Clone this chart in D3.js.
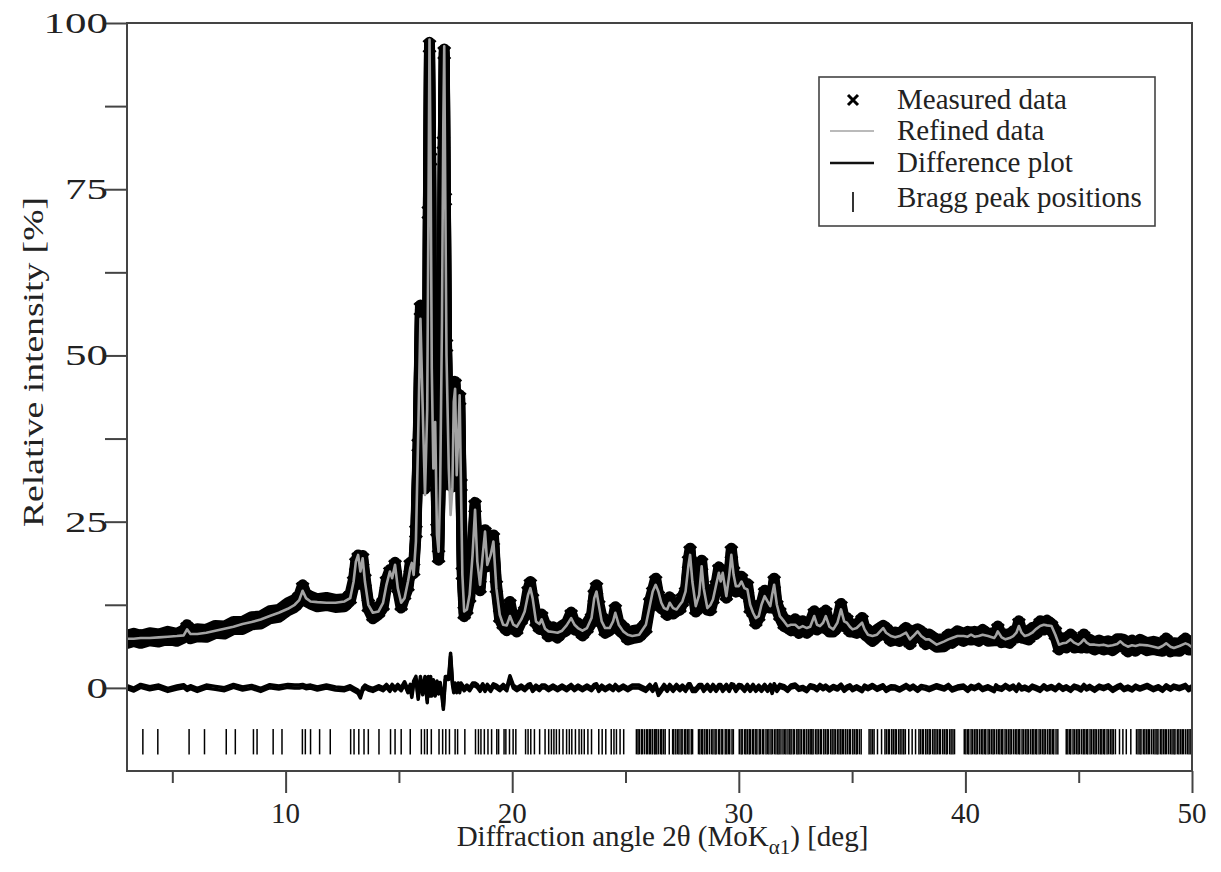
<!DOCTYPE html>
<html>
<head>
<meta charset="utf-8">
<script src="https://cdn.jsdelivr.net/npm/d3@7"></script>
<style>
  html, body { margin: 0; padding: 0; background: #fff; }
  svg text { font-family: "Liberation Serif", "Times New Roman", serif; fill: #222; }
</style>
</head>
<body>
<div id="chart"></div>
<script>
// ----- Data -----

// 2theta grid [deg] shared by measured / refined / difference
const twoTheta = [
  3.0, 3.3, 3.6, 4.0, 4.4, 4.8, 5.2, 5.5, 5.65, 5.8, 6.1, 6.5, 6.9, 7.3, 7.7, 8.1, 8.5, 8.9, 9.3, 9.7,
  10.1, 10.4, 10.6, 10.75, 10.9, 11.1, 11.4, 11.8, 12.2, 12.6, 12.85, 13.0, 13.1, 13.2, 13.3, 13.4, 13.5, 13.65, 13.85,
  14.1, 14.3, 14.45, 14.6, 14.7, 14.83, 14.95, 15.1, 15.25, 15.4, 15.5, 15.57, 15.65, 15.75, 15.85, 15.95,
  16.05, 16.15, 16.25, 16.3, 16.35, 16.4, 16.45, 16.52, 16.6, 16.68, 16.75, 16.82, 16.9, 16.96,
  17.0, 17.05, 17.1, 17.2, 17.28, 17.36, 17.42, 17.48, 17.55, 17.62, 17.68, 17.74, 17.8, 17.88,
  18.0, 18.12, 18.25, 18.36, 18.46, 18.58, 18.7, 18.8, 18.9, 19.05, 19.17, 19.3, 19.45, 19.6, 19.76, 19.9,
  20.05, 20.2, 20.4, 20.55, 20.7, 20.8, 20.9, 21.05, 21.2, 21.3, 21.45, 21.6, 21.8, 22.0, 22.2, 22.4, 22.6, 22.75, 22.9,
  23.1, 23.3, 23.5, 23.62, 23.72, 23.82, 23.95, 24.1, 24.3, 24.45, 24.55, 24.7, 24.9, 25.1, 25.3, 25.6, 25.9,
  26.07, 26.2, 26.33, 26.45, 26.58, 26.7, 26.84, 26.95, 27.1, 27.25, 27.4, 27.51, 27.65, 27.78, 27.85, 27.95,
  28.1, 28.25, 28.36, 28.45, 28.61, 28.75, 28.86, 29.0, 29.12, 29.2, 29.29, 29.45, 29.58, 29.67, 29.77, 29.87,
  30.0, 30.12, 30.25, 30.38, 30.5, 30.63, 30.75, 30.88, 31.0, 31.14, 31.27, 31.39, 31.47, 31.56, 31.68, 31.81,
  32.0, 32.15, 32.3, 32.49, 32.65, 32.82, 33.0, 33.15, 33.33, 33.45, 33.58, 33.72, 33.84,
  34.0, 34.17, 34.35, 34.51, 34.65, 34.77, 34.9, 35.02, 35.2, 35.44, 35.55, 35.7, 35.9,
  36.1, 36.37, 36.5, 36.71, 36.9, 37.1, 37.38, 37.55, 37.7, 37.89, 38.05, 38.25, 38.4, 38.73,
  39.07, 39.25, 39.41, 39.65, 39.92, 40.1, 40.25, 40.4, 40.59, 40.76, 41.0, 41.27, 41.35, 41.43, 41.6, 41.77, 41.95,
  42.11, 42.25, 42.36, 42.48, 42.62, 42.8, 42.95, 43.1, 43.3, 43.46, 43.6, 43.8, 43.97,
  44.13, 44.3, 44.45, 44.64, 44.8, 44.98, 45.1, 45.23, 45.35, 45.49, 45.7, 45.9,
  46.1, 46.3, 46.5, 46.7, 46.84, 47.0, 47.17, 47.35, 47.51, 47.7, 48.02, 48.3, 48.52, 48.7, 48.86,
  49.05, 49.2, 49.45, 49.71, 49.85, 50.0
];

// refined (Rietveld) curve, relative intensity [%]
const refined = [
  7.4, 7.4, 7.5, 7.5, 7.6, 7.7, 7.8, 7.9, 8.8, 8.1, 8.1, 8.3, 8.6, 8.9, 9.2, 9.6, 9.9, 10.3, 10.8, 11.3,
  11.9, 12.5, 13.2, 14.6, 13.5, 13.0, 12.9, 12.8, 12.8, 13.0, 13.5, 16.0, 19.0, 20.0, 17.5, 19.5, 16.0, 12.5, 11.3,
  11.5, 12.8, 15.5, 17.5, 16.5, 18.5, 15.0, 12.8, 13.5, 16.0, 18.0, 18.8, 17.0, 22.0, 38.0, 55.5,
  42.0, 29.0, 42.0, 70.0, 97.5, 78.0, 48.0, 33.0, 40.0, 23.0, 20.5, 30.0, 55.0, 85.0,
  96.5, 72.0, 50.0, 33.0, 26.0, 30.0, 43.0, 45.0, 32.0, 38.0, 44.0, 30.0, 17.0, 11.5,
  11.8, 14.0, 20.0, 26.8, 19.0, 15.5, 20.0, 23.5, 18.5, 20.0, 22.0, 15.0, 11.0, 9.5, 9.4, 10.8,
  9.5, 9.2, 10.3, 11.5, 14.0, 15.0, 13.5, 10.0, 9.6, 10.3, 8.9, 8.5, 8.4, 8.3, 8.6, 9.4, 10.5, 9.5, 9.0,
  8.6, 9.0, 10.5, 13.5, 14.5, 12.5, 10.0, 9.0, 9.0, 10.0, 11.3, 9.5, 8.5, 8.0, 7.8, 8.0, 9.5,
  12.3, 14.5, 15.5, 14.5, 12.8, 12.0, 11.8, 12.8, 12.0, 11.8, 12.5, 13.0, 14.5, 18.5, 20.0, 16.0,
  12.3, 14.0, 18.3, 15.0, 12.0, 12.5, 13.3, 15.5, 17.3, 16.0, 17.3, 13.8, 17.0, 20.0, 17.0, 15.3,
  15.3, 16.0, 15.0, 14.8, 12.5, 11.3, 10.5, 10.8, 12.5, 13.8, 13.0, 12.3, 14.0, 15.5, 12.5, 10.8,
  10.0, 9.3, 9.5, 9.5, 9.0, 9.3, 9.0, 9.2, 10.8, 9.5, 9.3, 9.8, 10.8,
  9.2, 8.8, 9.8, 11.8, 10.0, 9.8, 9.2, 8.8, 9.0, 9.8, 8.8, 8.0, 7.8,
  8.0, 9.0, 8.3, 7.8, 7.6, 7.8, 8.3, 7.3, 7.8, 8.5, 7.8, 7.3, 7.3, 6.5,
  7.0, 7.3, 7.5, 7.8, 7.8, 7.7, 8.0, 7.7, 7.8, 8.0, 7.8, 7.5, 7.9, 8.5, 7.6, 7.3, 7.5,
  7.8, 8.3, 9.3, 8.3, 7.8, 8.0, 8.3, 8.8, 9.3, 9.5, 9.4, 9.3, 8.0,
  6.5, 6.7, 6.8, 7.3, 6.8, 6.5, 6.8, 7.3, 6.8, 6.5, 6.5, 6.4,
  6.5, 6.3, 6.4, 6.6, 7.0, 6.5, 6.2, 6.4, 6.3, 6.5, 6.4, 6.2, 6.0, 6.3, 6.7,
  6.2, 6.0, 6.3, 6.7, 6.5, 6.1
];

// measured intensity [%]
const measured = [
  7.3, 7.6, 7.3, 7.7, 7.5, 7.9, 7.6, 8.1, 8.9, 8.0, 8.3, 8.2, 8.8, 8.7, 9.4, 9.4, 10.1, 10.2, 11.0, 11.2,
  12.2, 12.7, 13.4, 14.9, 13.6, 13.2, 12.8, 13.0, 12.7, 12.8, 13.6, 15.8, 18.6, 19.4, 16.2, 19.3, 16.2, 12.4, 11.0,
  11.6, 12.6, 15.8, 17.2, 16.8, 18.3, 15.3, 12.6, 14.2, 15.5, 18.3, 17.6, 17.8, 23.5, 36.5, 57.0,
  41.2, 30.5, 40.0, 71.5, 96.5, 79.5, 47.0, 34.0, 39.0, 23.8, 19.8, 30.6, 54.0, 82.0,
  95.5, 73.5, 51.5, 34.5, 31.0, 30.8, 42.5, 45.5, 31.5, 38.5, 43.5, 30.5, 17.2, 11.3,
  12.0, 13.8, 20.5, 27.3, 19.3, 15.2, 20.4, 23.2, 18.8, 19.7, 22.4, 15.2, 10.8, 9.8, 9.2, 12.4,
  9.7, 9.0, 10.5, 11.3, 14.3, 15.4, 13.2, 10.2, 9.4, 10.5, 9.1, 8.3, 8.6, 8.1, 8.8, 9.2, 10.8, 9.3, 9.2,
  8.4, 9.2, 10.3, 13.8, 14.9, 12.2, 10.2, 8.8, 9.2, 9.8, 11.6, 9.3, 8.7, 7.8, 8.0, 8.2, 9.2,
  12.6, 14.2, 15.9, 13.6, 12.5, 12.3, 11.5, 13.1, 11.7, 12.1, 12.3, 13.2, 14.2, 18.9, 20.4, 15.7,
  12.0, 14.3, 18.6, 14.7, 12.3, 12.2, 13.6, 15.2, 17.6, 16.3, 17.0, 14.1, 16.7, 20.4, 17.3, 15.0,
  15.6, 16.2, 14.7, 15.1, 12.2, 11.6, 10.2, 11.0, 12.2, 14.1, 12.7, 12.6, 13.4, 15.9, 12.2, 11.1,
  9.8, 9.6, 9.2, 9.8, 8.8, 9.5, 8.8, 9.4, 11.0, 9.3, 9.6, 9.6, 11.1,
  9.0, 9.0, 9.6, 12.1, 9.8, 10.0, 9.0, 9.0, 8.8, 10.0, 8.6, 8.2, 7.6,
  8.2, 8.8, 8.5, 7.6, 7.8, 7.6, 8.5, 7.1, 8.0, 8.3, 8.0, 7.1, 7.5, 6.7,
  6.8, 7.5, 7.3, 8.0, 7.6, 7.9, 7.8, 7.9, 7.6, 8.2, 7.6, 7.7, 7.7, 8.7, 7.4, 7.5, 7.3,
  8.0, 8.1, 9.5, 8.1, 8.0, 7.8, 8.5, 8.6, 9.5, 9.3, 9.6, 9.1, 8.2,
  6.3, 6.9, 6.6, 7.5, 6.6, 6.7, 6.6, 7.5, 6.6, 6.7, 6.3, 6.6,
  6.3, 6.5, 6.2, 6.8, 6.8, 6.7, 6.0, 6.6, 6.1, 6.7, 6.2, 6.4, 6.2, 6.1, 6.9,
  6.0, 6.2, 6.1, 6.9, 6.3, 6.3
];

// difference plot (measured - refined) [%]
const difference = [
  0.1, -0.25, 0.3, -0.05, 0.2, -0.3, 0.05, 0.25, -0.15, 0.1, -0.3, 0.2, 0.0, -0.2, 0.3, -0.1, 0.15, -0.3, 0.25, 0.05,
  0.3, 0.2, 0.2, 0.3, 0.1, 0.2, -0.1, 0.2, -0.1, -0.2, 0.1, -0.2, -0.4, -0.6, -1.3, -0.2, 0.2, -0.1, -0.3,
  0.1, -0.2, 0.3, -0.3, 0.3, -0.2, 0.3, -0.2, 0.7, -0.5, 0.3, -1.2, 0.8, 1.5, -1.5, 1.5,
  -0.8, 1.5, -2.0, 1.5, -1.0, 1.5, -1.0, 1.0, -1.0, 0.8, -0.7, 0.6, -1.0, -3.0,
  -1.0, 1.5, 1.5, 1.5, 5.0, 0.8, -0.5, 0.5, -0.5, 0.5, -0.5, 0.5, 0.2, -0.2,
  0.2, -0.2, 0.5, 0.5, 0.3, -0.3, 0.4, -0.3, 0.3, -0.3, 0.4, 0.2, -0.2, 0.3, -0.2, 1.6,
  0.2, -0.2, 0.2, -0.2, 0.3, 0.4, -0.3, 0.2, -0.2, 0.2, 0.2, -0.2, 0.2, -0.2, 0.2, -0.2, 0.3, -0.2, 0.2,
  -0.2, 0.2, -0.2, 0.3, 0.4, -0.3, 0.2, -0.2, 0.2, -0.2, 0.3, -0.2, 0.2, -0.2, 0.2, 0.2, -0.3,
  0.3, -0.3, 0.4, -0.9, -0.3, 0.3, -0.3, 0.3, -0.3, 0.3, -0.2, 0.2, -0.3, 0.4, 0.4, -0.3,
  -0.3, 0.3, 0.3, -0.3, 0.3, -0.3, 0.3, -0.3, 0.3, 0.3, -0.3, 0.3, -0.3, 0.4, 0.3, -0.3,
  0.3, 0.2, -0.3, 0.3, -0.3, 0.3, -0.3, 0.2, -0.3, 0.3, -0.3, 0.3, -0.6, 0.4, -0.3, 0.3,
  0.1, -0.3, 0.2, 0.35, -0.15, 0.0, -0.35, 0.25, 0.1, -0.2, 0.3, -0.05, 0.2,
  -0.25, 0.15, -0.1, 0.35, -0.3, 0.05, 0.25, -0.2, 0.1, -0.35, 0.2, -0.05, 0.3,
  -0.15, 0.25, -0.3, 0.1, 0.05, -0.25, 0.3, -0.1, 0.2, -0.3, 0.15, 0.0, -0.2, 0.25,
  -0.1, 0.3, -0.25, 0.05, 0.2, -0.3, 0.15, -0.05, 0.3, -0.2, 0.1, -0.35, 0.25, 0.0, -0.15, 0.3, -0.1,
  0.2, -0.3, 0.35, -0.1, 0.05, -0.25, 0.2, 0.0, -0.3, 0.25, -0.1, 0.15, -0.2,
  0.3, -0.15, 0.1, -0.3, 0.2, 0.0, -0.25, 0.3, -0.1, 0.15, -0.3, 0.2,
  -0.05, 0.25, -0.3, 0.1, 0.3, -0.2, 0.05, -0.25, 0.2, -0.1, 0.3, -0.2, 0.1, -0.3, 0.25,
  -0.15, 0.2, -0.05, 0.3, -0.2, 0.1
];

// Bragg reflection positions [deg 2theta]
const braggPositions = [
  3.70, 4.36, 5.74, 6.42, 7.38, 7.78, 8.58, 8.74, 9.45, 9.84, 10.74, 10.87, 11.10, 11.50, 11.97,
  12.87, 13.02, 13.23, 13.46, 13.65, 14.12, 14.63, 14.83, 15.10, 15.50, 15.99, 16.13, 16.25, 16.43,
  16.77, 16.93, 17.07, 17.23, 17.48, 17.59, 17.91, 18.38, 18.51, 18.62, 18.77, 18.93, 19.09, 19.32,
  19.40, 19.64, 19.72, 19.88, 20.04, 20.16, 20.59, 20.70, 20.82, 20.98, 21.21, 21.45, 21.61, 21.73,
  21.84, 21.95, 22.08, 22.24, 22.40, 22.52, 22.63, 22.79, 22.95, 23.06, 23.18, 23.34, 23.50, 23.82,
  23.97, 24.13, 24.37, 24.49, 24.60, 24.76, 24.92,
  25.48, 25.55, 25.61, 25.70, 25.74, 25.83, 25.92, 25.97, 26.05, 26.10, 26.18, 26.27, 26.31, 26.38,
  26.46, 26.55, 26.60, 26.68, 26.75, 26.93, 27.08, 27.13, 27.22, 27.30, 27.36, 27.45, 27.50, 27.60,
  27.66, 27.74, 27.80, 27.90, 27.96, 28.22, 28.28, 28.36, 28.41, 28.50, 28.58, 28.62, 28.71, 28.80,
  28.86, 28.95, 29.00, 29.10, 29.16, 29.25, 29.29, 29.40, 29.47, 29.55, 29.60, 29.70, 29.76, 30.02,
  30.10, 30.15, 30.25, 30.31, 30.38, 30.46, 30.51, 30.60, 30.66, 30.75, 30.80, 30.90, 30.96, 31.05,
  31.10, 31.20, 31.27, 31.33, 31.42, 31.48, 31.57, 31.64, 31.72, 31.78, 31.86, 31.95, 32.02, 32.08,
  32.17, 32.25, 32.31, 32.40, 32.46, 32.56, 32.62, 32.70, 32.77, 32.86, 32.91, 33.00, 33.08, 33.15,
  33.22, 33.28, 33.38, 33.45, 33.52, 33.60, 33.65, 33.75, 33.82, 33.90, 33.95, 34.05, 34.12, 34.20,
  34.26, 34.35, 34.42, 34.50, 34.57, 34.63, 34.72, 34.80, 34.88, 34.93, 35.03, 35.10, 35.18, 35.23,
  35.32, 35.40, 35.75, 35.83, 35.90, 35.97, 36.12, 36.30, 36.45, 36.52, 36.60, 36.65, 36.75, 36.82,
  36.90, 36.95, 37.05, 37.12, 37.20, 37.28, 37.35, 37.50, 37.65, 37.80, 37.95, 38.02, 38.10, 38.15,
  38.25, 38.32, 38.40, 38.45, 38.55, 38.62, 38.70, 38.77, 38.85, 38.90, 39.00, 39.07, 39.15, 39.20,
  39.30, 39.37, 39.45, 39.52, 39.95, 40.02, 40.10, 40.15, 40.25, 40.32, 40.40, 40.47, 40.53, 40.62,
  40.70, 40.77, 40.85, 40.90, 41.00, 41.07, 41.15, 41.22, 41.28, 41.37, 41.45, 41.52, 41.60, 41.65,
  41.75, 41.82, 41.90, 41.97, 42.03, 42.12, 42.20, 42.27, 42.35, 42.40, 42.50, 42.57, 42.65, 42.72,
  42.78, 42.87, 42.95, 43.02, 43.10, 43.15, 43.25, 43.32, 43.40, 43.47, 43.53, 43.62, 43.70, 43.77,
  43.85, 43.90, 44.00, 44.08, 44.45, 44.52, 44.60, 44.65, 44.75, 44.82, 44.90, 44.97, 45.03, 45.12,
  45.20, 45.27, 45.35, 45.40, 45.50, 45.57, 45.65, 45.72, 45.78, 45.87, 45.95, 46.02, 46.10, 46.15,
  46.25, 46.32, 46.40, 46.47, 46.53, 46.62, 46.80, 46.95, 47.10, 47.30, 47.55, 47.62, 47.70, 47.75,
  47.85, 47.92, 48.00, 48.07, 48.13, 48.22, 48.30, 48.37, 48.45, 48.50, 48.60, 48.67, 48.75, 48.82,
  48.88, 48.97, 49.05, 49.12, 49.20, 49.25, 49.35, 49.42, 49.50, 49.57, 49.63, 49.72, 49.80, 49.87,
  49.95
];

// axis ticks
const xMajorTicks = [10, 20, 30, 40, 50];
const xMinorTicks = [5, 15, 25, 35, 45];
const yTicks      = [0, 12.5, 25, 37.5, 50, 62.5, 75, 87.5, 100];
const yLabels     = [0, 25, 50, 75, 100];

const legendItems = ["Measured data", "Refined data", "Difference plot", "Bragg peak positions"];

// ---------- Layout ----------
const width  = 1221;
const height = 872;
const margin = { top: 23, right: 29, bottom: 101, left: 127 };
const innerWidth  = width  - margin.left - margin.right;
const innerHeight = height - margin.top  - margin.bottom;

const FONT_SIZE  = 29;
const AXIS_COLOR = "#444";
const CALC_COLOR = "#a3a3a3";

const svg = d3.select("#chart")
  .append("svg")
  .attr("width", width)
  .attr("height", height);

const g = svg.append("g")
  .attr("transform", `translate(${margin.left},${margin.top})`);

const x = d3.scaleLinear().domain([3, 50]).range([0, innerWidth]);
const y = d3.scaleLinear().domain([-12.5, 100]).range([innerHeight, 0]);

// clip for the data marks
g.append("clipPath")
  .attr("id", "plot-clip")
  .append("rect")
  .attr("width", innerWidth)
  .attr("height", innerHeight);

const plot = g.append("g").attr("clip-path", "url(#plot-clip)");

const points = twoTheta.map((t, i) => ({
  t: t,
  meas: measured[i],
  calc: refined[i],
  diff: difference[i]
}));

// ---------- Measured data (dense x markers -> black band) ----------
// the band is taller than wide, so the stroke is repeated with a small vertical shift
const measLine = d3.line().x(d => x(d.t)).y(d => y(d.meas));

[-4, 0, 4].forEach(dy => {
  plot.append("path")
    .datum(points)
    .attr("transform", `translate(0,${dy})`)
    .attr("fill", "none")
    .attr("stroke", "#000")
    .attr("stroke-width", 11)
    .attr("stroke-linejoin", "round")
    .attr("stroke-linecap", "round")
    .attr("d", measLine);
});

const crossPath = "M-5,-5L5,5M-5,5L5,-5";

plot.selectAll(".meas")
  .data(points)
  .enter()
  .append("path")
  .attr("class", "meas")
  .attr("d", crossPath)
  .attr("transform", d => `translate(${x(d.t)},${y(d.meas)}) scale(1.2)`)
  .attr("stroke", "#000")
  .attr("stroke-width", 2.4)
  .attr("fill", "none");

// ---------- Refined curve ----------
plot.append("path")
  .datum(points)
  .attr("fill", "none")
  .attr("stroke", CALC_COLOR)
  .attr("stroke-width", 2.6)
  .attr("stroke-linejoin", "round")
  .attr("d", d3.line().x(d => x(d.t)).y(d => y(d.calc)));

// ---------- Difference plot ----------
const diffLine = d3.line().x(d => x(d.t)).y(d => y(d.diff));

[-1.5, 1.5].forEach(dy => {
  plot.append("path")
    .datum(points)
    .attr("transform", `translate(0,${dy})`)
    .attr("fill", "none")
    .attr("stroke", "#000")
    .attr("stroke-width", 3.5)
    .attr("stroke-linejoin", "round")
    .attr("d", diffLine);
});

// ---------- Bragg peak positions ----------
plot.selectAll(".bragg")
  .data(braggPositions)
  .enter()
  .append("line")
  .attr("class", "bragg")
  .attr("x1", d => x(d))
  .attr("x2", d => x(d))
  .attr("y1", y(-6.2))
  .attr("y2", y(-10.0))
  .attr("stroke", "#000")
  .attr("stroke-width", 1.5);

// ---------- Axes (tick marks only, labels drawn below) ----------
const xAxisG = g.append("g")
  .attr("transform", `translate(0,${innerHeight})`);

xAxisG.append("g")
  .call(d3.axisBottom(x).tickValues(xMinorTicks).tickSize(12).tickFormat(""));

xAxisG.append("g")
  .call(d3.axisBottom(x).tickValues(xMajorTicks).tickSize(22).tickFormat(""));

const yAxisG = g.append("g")
  .call(d3.axisLeft(y).tickValues(yTicks).tickSize(22).tickFormat(""));

[xAxisG, yAxisG].forEach(a => {
  a.selectAll(".domain").remove();
  a.selectAll("text").remove();
  a.selectAll("line")
    .attr("stroke", AXIS_COLOR)
    .attr("stroke-width", 2);
});

// x tick labels
svg.selectAll(".x-label")
  .data(xMajorTicks)
  .enter()
  .append("text")
  .attr("class", "x-label")
  .attr("x", d => margin.left + x(d))
  .attr("y", 823)
  .attr("text-anchor", "middle")
  .attr("font-size", FONT_SIZE)
  .text(d => d);

// y tick labels are drawn wide in the original -> stretch with textLength
svg.selectAll(".y-label")
  .data(yLabels)
  .enter()
  .append("text")
  .attr("class", "y-label")
  .attr("x", margin.left - 19)
  .attr("y", d => margin.top + y(d) + 10)
  .attr("text-anchor", "end")
  .attr("font-size", FONT_SIZE)
  .text(d => d)
  .each(function () {
    const w = this.getComputedTextLength();
    d3.select(this)
      .attr("textLength", w * 1.48)
      .attr("lengthAdjust", "spacingAndGlyphs");
  });

// frame
g.append("rect")
  .attr("width", innerWidth)
  .attr("height", innerHeight)
  .attr("fill", "none")
  .attr("stroke", AXIS_COLOR)
  .attr("stroke-width", 2);

// ---------- Axis titles ----------
const xTitle = svg.append("text")
  .attr("x", margin.left + innerWidth / 2 + 3)
  .attr("y", 846)
  .attr("text-anchor", "middle")
  .attr("font-size", FONT_SIZE);

xTitle.append("tspan").text("Diffraction angle 2\u03B8 (MoK");
xTitle.append("tspan")
  .attr("baseline-shift", "-8")
  .attr("font-size", 21)
  .text("\u03B11");
xTitle.append("tspan").text(") [deg]");

svg.append("text")
  .attr("text-anchor", "middle")
  .attr("font-size", FONT_SIZE)
  .attr("transform", "translate(43,362) rotate(-90)")
  .attr("textLength", 330)
  .attr("lengthAdjust", "spacingAndGlyphs")
  .text("Relative intensity [%]");

// ---------- Legend ----------
const legend = svg.append("g").attr("transform", "translate(819,77)");

legend.append("rect")
  .attr("width", 336)
  .attr("height", 149)
  .attr("fill", "#fff")
  .attr("stroke", AXIS_COLOR)
  .attr("stroke-width", 1.6);

const rowBase = [32, 63, 95, 130];
const symX = 34;

legend.selectAll(".legend-text")
  .data(legendItems)
  .enter()
  .append("text")
  .attr("class", "legend-text")
  .attr("x", 78)
  .attr("y", (d, i) => rowBase[i])
  .attr("font-size", FONT_SIZE)
  .text(d => d);

legend.append("path")
  .attr("d", crossPath)
  .attr("transform", `translate(${symX},${rowBase[0] - 9})`)
  .attr("stroke", "#000")
  .attr("stroke-width", 3)
  .attr("fill", "none");

legend.append("line")
  .attr("x1", symX - 23).attr("x2", symX + 21)
  .attr("y1", rowBase[1] - 9).attr("y2", rowBase[1] - 9)
  .attr("stroke", CALC_COLOR)
  .attr("stroke-width", 1.6);

legend.append("line")
  .attr("x1", symX - 23).attr("x2", symX + 21)
  .attr("y1", rowBase[2] - 9).attr("y2", rowBase[2] - 9)
  .attr("stroke", "#111")
  .attr("stroke-width", 2.6);

legend.append("line")
  .attr("x1", symX).attr("x2", symX)
  .attr("y1", rowBase[3] - 15).attr("y2", rowBase[3] + 5)
  .attr("stroke", "#000")
  .attr("stroke-width", 1.6);
</script>
</body>
</html>
